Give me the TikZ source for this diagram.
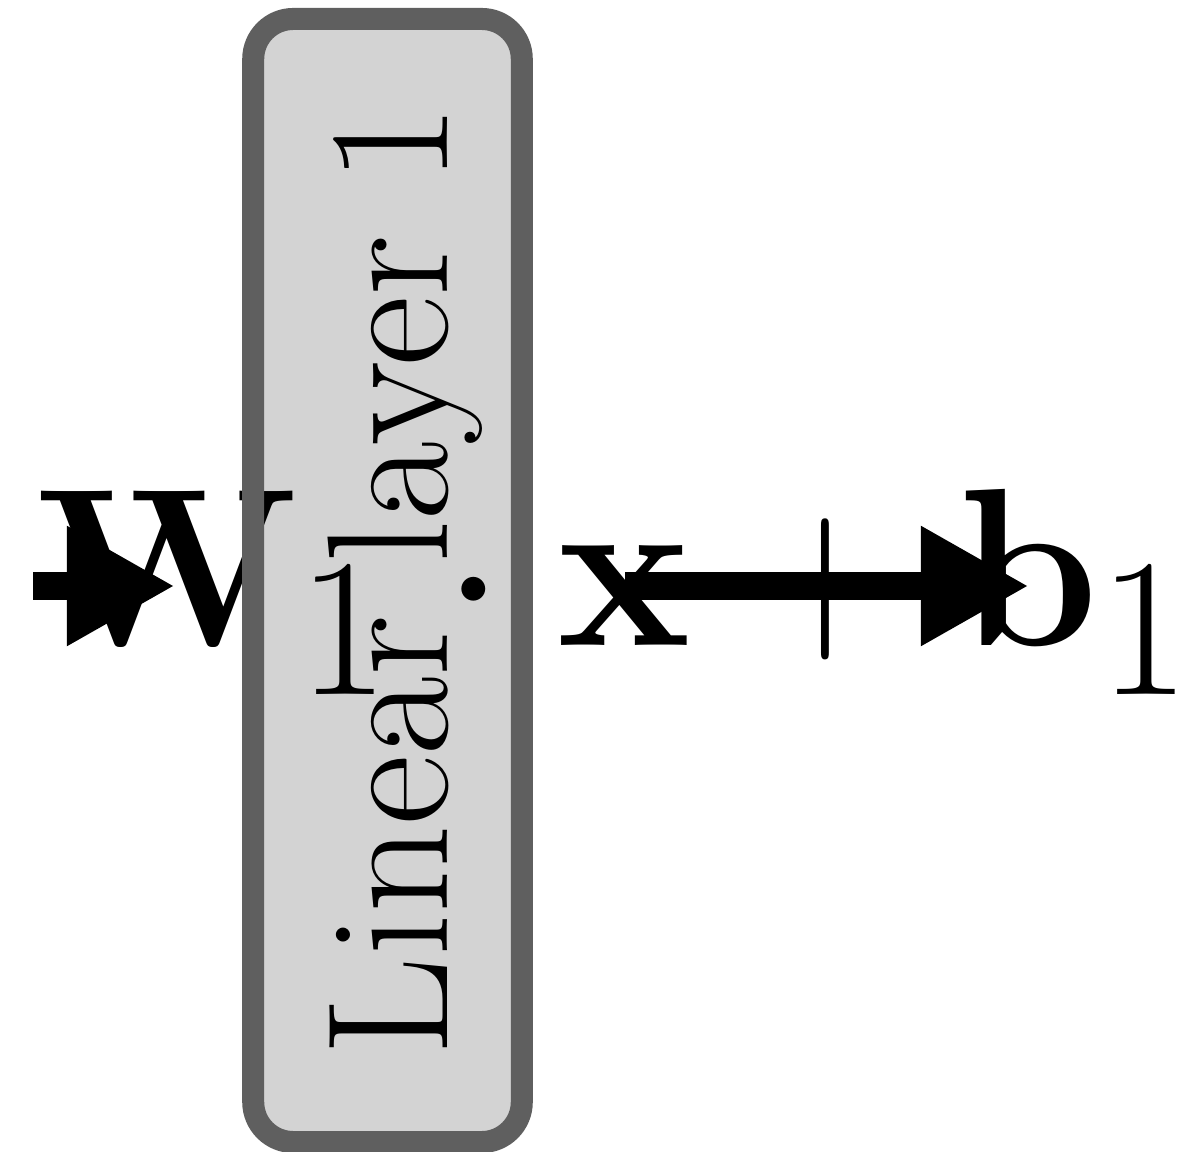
\documentclass[tikz,border=0pt]{standalone}
\usepackage{fix-cm}
\usetikzlibrary{positioning, arrows.meta}
\definecolor{layerFill}{HTML}{D3D3D3}
\definecolor{layerRim}{HTML}{5F5F5F}
\DeclareMathSizes{64}{64}{56}{40}
\newcommand{\eqnfont}{\fontsize{64}{72}\selectfont\medmuskip=4.2mu\relax}

\begin{document}
\begin{tikzpicture}[x=0.01cm, y=-0.01cm,
  layer/.style={fill=layerFill, rounded corners=0.4cm, rotate=90, minimum width=11.21cm, minimum height=2.67cm, text height=1.2cm, text depth=0cm, font=\fontsize{49}{58}\selectfont},
  rim/.style={draw=layerRim, line width=0.22cm, rounded corners=0.4cm},
  eqn/.style={inner sep=0pt, anchor=base west, font=\eqnfont},
  flow/.style={line width=0.28cm, -{Triangle[length=1.08cm, width=1.12cm]}}
]
\useasboundingbox (0,0) rectangle (1200,1152);

\node[layer] (layer) at (387.5,580.5) {Linear layer 1};
\node[eqn] (eq) at (36,645) {$\mathbf{W}_1 \cdot \mathbf{x} + \mathbf{b}_1$};
\draw[rim] (layer.south west) rectangle (layer.north east);

% arrows in and out
\coordinate (src) at (33,586);
\coordinate (inlet) at (175,586);
\coordinate (mid) at (625,586);
\coordinate (out) at (1029,586);
\draw[flow] (src) -- (inlet);
\draw[flow] (mid) -- (out);
\end{tikzpicture}
\end{document}
